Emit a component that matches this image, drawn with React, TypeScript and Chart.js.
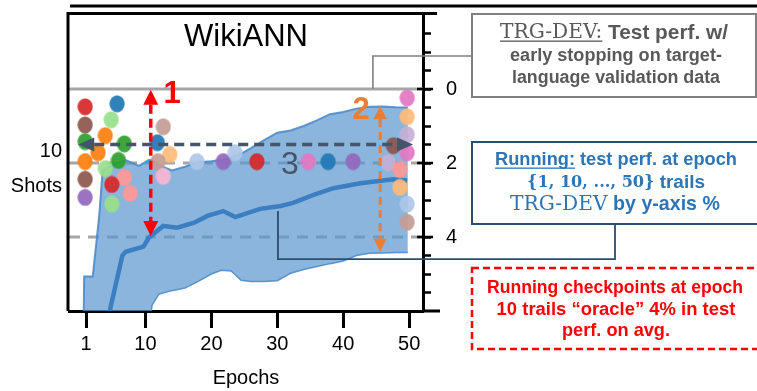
import React, { useEffect, useRef } from 'react';
import { Chart, registerables } from 'chart.js';

Chart.register(...registerables);

// ---- axes ----
const epochTicks = [1, 10, 20, 30, 40, 50];
const epochMin = -1.6;
const epochMax = 52.1;

const gapMin = -2;
const gapMax = 6;
const gapTicks = [-1.5, -1, -0.5, 0, 0.5, 1, 1.5, 2, 2.5, 3, 3.5, 4, 4.5, 5, 5.5];
const gapLabels = [0, 2, 4];

// reference levels (0 = TRG-DEV)
const refLevels = [0, 2, 4];

// ---- spread of running checkpoints (band) ----
const bandEpochs = [0.6, 0.7, 2, 3, 3.5, 5, 7, 9, 10.5, 11, 12, 14, 16, 18, 20, 21.5, 23, 24.5, 26, 28, 30, 32, 34, 36, 38, 40, 42, 44, 46, 48, 49.8];
const bandUpper = [6.5, 5.07, 5.07, 3.4, 2.2, 2.05, 1.92, 2.08, 1.92, 1.92, 2.05, 2.2, 2.1, 1.98, 1.95, 1.92, 1.85, 1.75, 1.6, 1.38, 1.18, 1.12, 1.0, 0.85, 0.68, 0.62, 0.53, 0.48, 0.47, 0.49, 0.5];
const bandLower = [6.5, 6.5, 6.5, 6.5, 6.5, 6.5, 6.5, 6.5, 6.5, 5.85, 5.55, 5.45, 5.38, 5.2, 5.0, 4.9, 4.92, 5.17, 5.2, 5.2, 5.18, 4.98, 4.88, 4.8, 4.72, 4.65, 4.5, 4.44, 4.43, 4.42, 4.42];

// ---- mean of running checkpoints ----
const meanEpochs = [4.4, 4.7, 6.5, 7, 9.7, 10.5, 12.7, 14.8, 17.3, 19.4, 21.8, 23.6, 27.4, 30.5, 32.4, 35.4, 38.5, 42.6, 47.6, 49.7];
const meanValues = [6.3, 5.9, 4.5, 4.4, 4.26, 4.02, 3.7, 3.75, 3.62, 3.43, 3.3, 3.46, 3.24, 3.16, 3.08, 2.87, 2.68, 2.55, 2.44, 2.47];

// ---- TRG-DEV checkpoints per language ----
const T = {
  blue: '#1f77b4', lblue: '#aec7e8', orange: '#ff7f0e', lorange: '#ffbb78',
  green: '#2ca02c', lgreen: '#98df8a', red: '#d62728', salmon: '#ff9896',
  purple: '#9467bd', lpurple: '#c5b0d5', brown: '#8c564b', rbrown: '#c49c94',
  pink: '#e377c2', lpink: '#f7b6d2',
};
const dotEpochs = [
  0.85, 0.85, 0.85, 0.85, 0.85, 0.85,
  5.7, 4.8, 3.9, 6.8, 2.8, 5.9, 3.9, 6.8, 4.9, 7.7, 4.9,
  12.7, 11.8, 13.7, 11.9, 12.7,
  17.8, 21.8, 23.6, 26.9, 34.7, 37.7, 41.5,
  47.6, 46.8, 49.7, 49.7, 49.7, 49.7, 48.6, 48.6, 49.7, 49.7,
];
const dotValues = [
  0.48, 0.97, 1.42, 1.96, 2.44, 2.93,
  0.4, 0.83, 1.26, 1.48, 1.72, 1.93, 2.15, 2.39, 2.58, 2.82, 3.11,
  1.02, 1.45, 1.77, 1.96, 2.36,
  1.96, 1.96, 1.72, 1.96, 1.96, 1.96, 1.96,
  1.53, 1.99, 0.24, 0.75, 1.23, 1.72, 2.17, 2.66, 3.11, 3.6,
];
const dotColors = [
  T.red, T.brown, T.green, T.orange, T.brown, T.purple,
  T.blue, T.lgreen, T.orange, T.green, T.orange, T.green, T.lgreen, T.salmon, T.red, T.salmon, T.lgreen,
  T.rbrown, T.blue, T.lorange, T.rbrown, T.lpink,
  T.lblue, T.purple, T.lblue, T.red, T.pink, T.blue, T.purple,
  T.brown, T.lpurple, T.pink, T.lorange, T.lpurple, T.pink, T.salmon, T.lorange, T.lblue, T.rbrown,
];

// ---- annotation arrows (data space) ----
const arrow1 = { epoch: 10.8, from: 0.02, to: 3.97 };
const arrow2 = { epoch: 45.6, from: 0.46, to: 4.4 };
const arrow3 = { value: 1.5, from: -0.2, to: 50.6 };
const label1 = { epoch: 14.05, value: 0.14 };
const label2 = { epoch: 42.7, value: 0.57 };
const label3 = { epoch: 31.9, value: 2.05 };
const trgAnchor = { epoch: 44.5, value: 0 };
const runAnchor = { epoch: 30.1, top: 3.3, bottom: 4.6 };

const SANS = '"Liberation Sans", Arial, sans-serif';
const SERIF = '"DejaVu Serif", serif';

type Seg = { text: string; family: string; size: number; bold?: boolean; color: string; underline?: boolean };

const fontOf = (s: Seg, k: number) => `${s.bold ? 'bold ' : ''}${(s.size * k).toFixed(2)}px ${s.family}`;

function drawRich(ctx: CanvasRenderingContext2D, segs: Seg[], cx: number, cy: number, targetW: number) {
  let natural = 0;
  for (const s of segs) {
    ctx.font = fontOf(s, 1);
    natural += ctx.measureText(s.text).width;
  }
  const k = targetW / natural;
  let total = 0;
  const ws = segs.map((s) => {
    ctx.font = fontOf(s, k);
    const w = ctx.measureText(s.text).width;
    total += w;
    return w;
  });
  let x = cx - total / 2;
  ctx.textAlign = 'left';
  ctx.textBaseline = 'middle';
  segs.forEach((s, i) => {
    ctx.font = fontOf(s, k);
    ctx.fillStyle = s.color;
    ctx.fillText(s.text, x, cy);
    if (s.underline) {
      ctx.fillRect(x, cy + 7.5, ctx.measureText(s.text).width, 1.3);
    }
    x += ws[i];
  });
}

function dashedArrow(
  ctx: CanvasRenderingContext2D, x1: number, y1: number, x2: number, y2: number,
  color: string, width: number, dash: number[], headLen: number, headW: number,
) {
  const a = Math.atan2(y2 - y1, x2 - x1);
  const c = Math.cos(a), s = Math.sin(a);
  ctx.save();
  ctx.strokeStyle = color;
  ctx.fillStyle = color;
  ctx.lineWidth = width;
  ctx.setLineDash(dash);
  ctx.beginPath();
  ctx.moveTo(x1 + c * headLen, y1 + s * headLen);
  ctx.lineTo(x2 - c * headLen, y2 - s * headLen);
  ctx.stroke();
  ctx.setLineDash([]);
  const head = (tx: number, ty: number, dir: number) => {
    const bx = tx - dir * c * headLen, by = ty - dir * s * headLen;
    ctx.beginPath();
    ctx.moveTo(tx, ty);
    ctx.lineTo(bx - s * headW / 2, by + c * headW / 2);
    ctx.lineTo(bx + s * headW / 2, by - c * headW / 2);
    ctx.closePath();
    ctx.fill();
  };
  head(x2, y2, 1);
  head(x1, y1, -1);
  ctx.restore();
}

function makeDot(color: string) {
  const c = document.createElement('canvas');
  c.width = 16;
  c.height = 18;
  const g = c.getContext('2d')!;
  g.globalAlpha = 0.92;
  g.fillStyle = color;
  g.beginPath();
  g.ellipse(8, 9, 7.6, 8.6, 0, 0, Math.PI * 2);
  g.fill();
  return c;
}

const overlay = {
  id: 'overlay',
  afterDatasetsDraw(chart: any) {
    const ctx: CanvasRenderingContext2D = chart.ctx;
    const xs = chart.scales.x, ys = chart.scales.y;
    const px = (e: number) => xs.getPixelForValue(e);
    const py = (v: number) => ys.getPixelForValue(v);

    dashedArrow(ctx, px(arrow1.epoch), py(arrow1.from), px(arrow1.epoch), py(arrow1.to), '#ff0000', 3.5, [9, 5], 15, 15);
    dashedArrow(ctx, px(arrow2.epoch), py(arrow2.from), px(arrow2.epoch), py(arrow2.to), '#ed7d31', 3, [8, 5], 13, 13);
    dashedArrow(ctx, px(arrow3.from), py(arrow3.value), px(arrow3.to), py(arrow3.value), '#44546a', 3.5, [10, 6], 16, 14);

    ctx.save();
    ctx.textAlign = 'center';
    ctx.textBaseline = 'middle';
    ctx.font = `bold 31px ${SANS}`;
    ctx.fillStyle = '#ff0000';
    ctx.fillText('1', px(label1.epoch), py(label1.value));
    ctx.fillStyle = '#ed7d31';
    ctx.fillText('2', px(label2.epoch), py(label2.value));
    ctx.font = `32px ${SANS}`;
    ctx.fillStyle = '#44546a';
    ctx.fillText('3', px(label3.epoch), py(label3.value));
    ctx.restore();
  },
  afterDraw(chart: any) {
    const ctx: CanvasRenderingContext2D = chart.ctx;
    const { left, right, top, bottom } = chart.chartArea;
    const xs = chart.scales.x, ys = chart.scales.y;
    const px = (e: number) => xs.getPixelForValue(e);
    const py = (v: number) => ys.getPixelForValue(v);

    ctx.save();
    // frame
    ctx.strokeStyle = '#000';
    ctx.lineWidth = 3;
    ctx.beginPath();
    ctx.moveTo(left - 1, top - 1.5);
    ctx.lineTo(left - 1, bottom);
    ctx.moveTo(left - 2.5, top - 1.5);
    ctx.lineTo(right + 14, top - 1.5);
    ctx.moveTo(right, bottom);
    ctx.lineTo(right + 17, bottom);
    ctx.stroke();
    ctx.lineWidth = 2.8;
    ctx.beginPath();
    ctx.moveTo(70, 6);
    ctx.lineTo(757, 6);
    ctx.stroke();
    // longer ticks at labelled levels
    ctx.lineWidth = 2.5;
    ctx.beginPath();
    for (const v of gapLabels) {
      ctx.moveTo(right - 6, py(v));
      ctx.lineTo(right + 10, py(v));
    }
    ctx.stroke();

    // title and left label
    ctx.fillStyle = '#000';
    ctx.textBaseline = 'alphabetic';
    ctx.textAlign = 'center';
    ctx.font = `31px ${SANS}`;
    ctx.fillText('WikiANN', (left + right) / 2, 46);
    ctx.textAlign = 'right';
    ctx.font = `20px ${SANS}`;
    ctx.fillText('10', 62, 157);
    ctx.fillText('Shots', 62, 192);

    // TRG-DEV box
    const gx = px(trgAnchor.epoch);
    ctx.strokeStyle = '#808080';
    ctx.lineWidth = 1.6;
    ctx.beginPath();
    ctx.moveTo(472, 56);
    ctx.lineTo(gx, 56);
    ctx.lineTo(gx, py(trgAnchor.value));
    ctx.stroke();
    ctx.lineWidth = 2;
    ctx.strokeRect(472, 14, 284, 83);
    const grey = '#595959';
    drawRich(ctx, [
      { text: 'TRG-DEV:', family: SERIF, size: 16.5, color: grey, underline: true },
      { text: ' Test perf. w/', family: SANS, size: 17, bold: true, color: grey },
    ], 614, 33, 228);
    drawRich(ctx, [{ text: 'early stopping on target-', family: SANS, size: 17, bold: true, color: grey }], 616, 56, 212);
    drawRich(ctx, [{ text: 'language validation data', family: SANS, size: 17, bold: true, color: grey }], 616, 78, 208);

    // Running box
    const rx = px(runAnchor.epoch);
    const navy = '#2c4d6e';
    ctx.strokeStyle = navy;
    ctx.lineWidth = 1.8;
    ctx.beginPath();
    ctx.moveTo(rx, py(runAnchor.top));
    ctx.lineTo(rx, py(runAnchor.bottom));
    ctx.lineTo(615, py(runAnchor.bottom));
    ctx.lineTo(615, 224);
    ctx.stroke();
    ctx.lineWidth = 2;
    ctx.strokeRect(472, 142, 290, 82);
    const blue = '#2e75b6';
    drawRich(ctx, [
      { text: 'Running:', family: SANS, size: 17, bold: true, color: blue, underline: true },
      { text: ' test perf. at epoch', family: SANS, size: 17, bold: true, color: blue },
    ], 616, 160, 242);
    drawRich(ctx, [
      { text: '{1, 10, ..., 50}', family: SERIF, size: 14.5, bold: true, color: blue },
      { text: ' trails', family: SANS, size: 17, bold: true, color: blue },
    ], 616, 183, 178);
    drawRich(ctx, [
      { text: 'TRG-DEV', family: SERIF, size: 17.5, color: blue },
      { text: ' by y-axis %', family: SANS, size: 17, bold: true, color: blue },
    ], 615, 205, 210);

    // oracle box
    ctx.strokeStyle = '#ff0000';
    ctx.lineWidth = 2.5;
    ctx.setLineDash([7, 4]);
    ctx.strokeRect(472, 268, 290, 81);
    ctx.setLineDash([]);
    const red = '#ff0000';
    drawRich(ctx, [{ text: 'Running checkpoints at epoch', family: SANS, size: 17, bold: true, color: red }], 615, 288, 256);
    drawRich(ctx, [{ text: '10 trails \u201coracle\u201d 4% in test', family: SANS, size: 17, bold: true, color: red }], 616, 310, 239);
    drawRich(ctx, [{ text: 'perf. on avg.', family: SANS, size: 17, bold: true, color: red }], 616, 331, 108);
    ctx.restore();
  },
};

export default function App() {
  const ref = useRef<HTMLCanvasElement>(null);

  useEffect(() => {
    const canvas = ref.current;
    if (!canvas) return;
    const dotImages = dotColors.map(makeDot);
    const tickFont = { family: SANS, size: 20 };

    const refSets = refLevels.map((lv, i) => ({
      data: [{ x: epochMin, y: lv }, { x: epochMax, y: lv }],
      borderColor: '#a6a6a6',
      borderWidth: 3,
      borderDash: i === 0 ? [] : [11, 8],
      pointRadius: 0,
      fill: false,
      order: 10,
    }));

    const noPad = (s: any) => {
      s.paddingTop = 0;
      s.paddingBottom = 0;
      s.paddingLeft = 0;
      s.paddingRight = 0;
    };

    const chart = new Chart(canvas, {
      type: 'line',
      data: {
        datasets: [
          ...refSets,
          {
            data: bandEpochs.map((e, i) => ({ x: e, y: bandUpper[i] })),
            borderColor: 'rgba(70,135,200,0.85)',
            borderWidth: 2,
            backgroundColor: 'rgba(90,150,205,0.7)',
            fill: '+1',
            pointRadius: 0,
            order: 8,
          },
          {
            data: bandEpochs.map((e, i) => ({ x: e, y: bandLower[i] })),
            borderColor: 'rgba(70,135,200,0.85)',
            borderWidth: 1.5,
            fill: false,
            pointRadius: 0,
            order: 7,
          },
          {
            data: meanEpochs.map((e, i) => ({ x: e, y: meanValues[i] })),
            borderColor: '#3b7fc2',
            borderWidth: 4.5,
            fill: false,
            pointRadius: 0,
            clip: 0,
            order: 6,
          },
          {
            data: dotEpochs.map((e, i) => ({ x: e, y: dotValues[i] })),
            showLine: false,
            pointStyle: (c: any) => dotImages[c.dataIndex],
            pointRadius: 8,
            order: 1,
          },
        ],
      },
      options: {
        responsive: false,
        maintainAspectRatio: false,
        animation: false,
        events: [],
        layout: { padding: { left: 69, top: 15, right: 0, bottom: 0 } },
        plugins: {
          legend: { display: false },
          tooltip: { enabled: false },
        },
        scales: {
          x: {
            type: 'linear',
            position: 'bottom',
            min: epochMin,
            max: epochMax,
            afterBuildTicks: (s: any) => { s.ticks = epochTicks.map((v) => ({ value: v })); },
            afterFit: (s: any) => { s.height = 80; noPad(s); },
            grid: { drawOnChartArea: false, drawTicks: true, tickLength: 17, tickWidth: 3, tickColor: '#000' },
            border: { display: true, color: '#000', width: 3 },
            ticks: { font: tickFont, color: '#000', padding: 4, autoSkip: false, maxRotation: 0 },
            title: { display: true, text: 'Epochs', font: tickFont, color: '#000', padding: { top: 0, bottom: 1 } },
          },
          y: {
            type: 'linear',
            position: 'right',
            reverse: true,
            min: gapMin,
            max: gapMax,
            afterBuildTicks: (s: any) => { s.ticks = gapTicks.map((v) => ({ value: v })); },
            afterFit: (s: any) => { s.width = 334; noPad(s); },
            grid: { drawOnChartArea: false, drawTicks: true, tickLength: 8, tickWidth: 2.5, tickColor: '#000' },
            border: { display: true, color: '#000', width: 3 },
            ticks: {
              font: tickFont,
              color: '#000',
              padding: 15,
              autoSkip: false,
              callback: (v: any) => (gapLabels.includes(Number(v)) ? String(v) : ''),
            },
          },
        },
      },
      plugins: [overlay],
    } as any);

    return () => chart.destroy();
  }, []);

  return (
    <div style={{ position: 'absolute', left: 0, top: 0, width: 757, height: 391, background: '#fff' }}>
      <canvas ref={ref} width={757} height={391} style={{ display: 'block', width: 757, height: 391 }} />
    </div>
  );
}
